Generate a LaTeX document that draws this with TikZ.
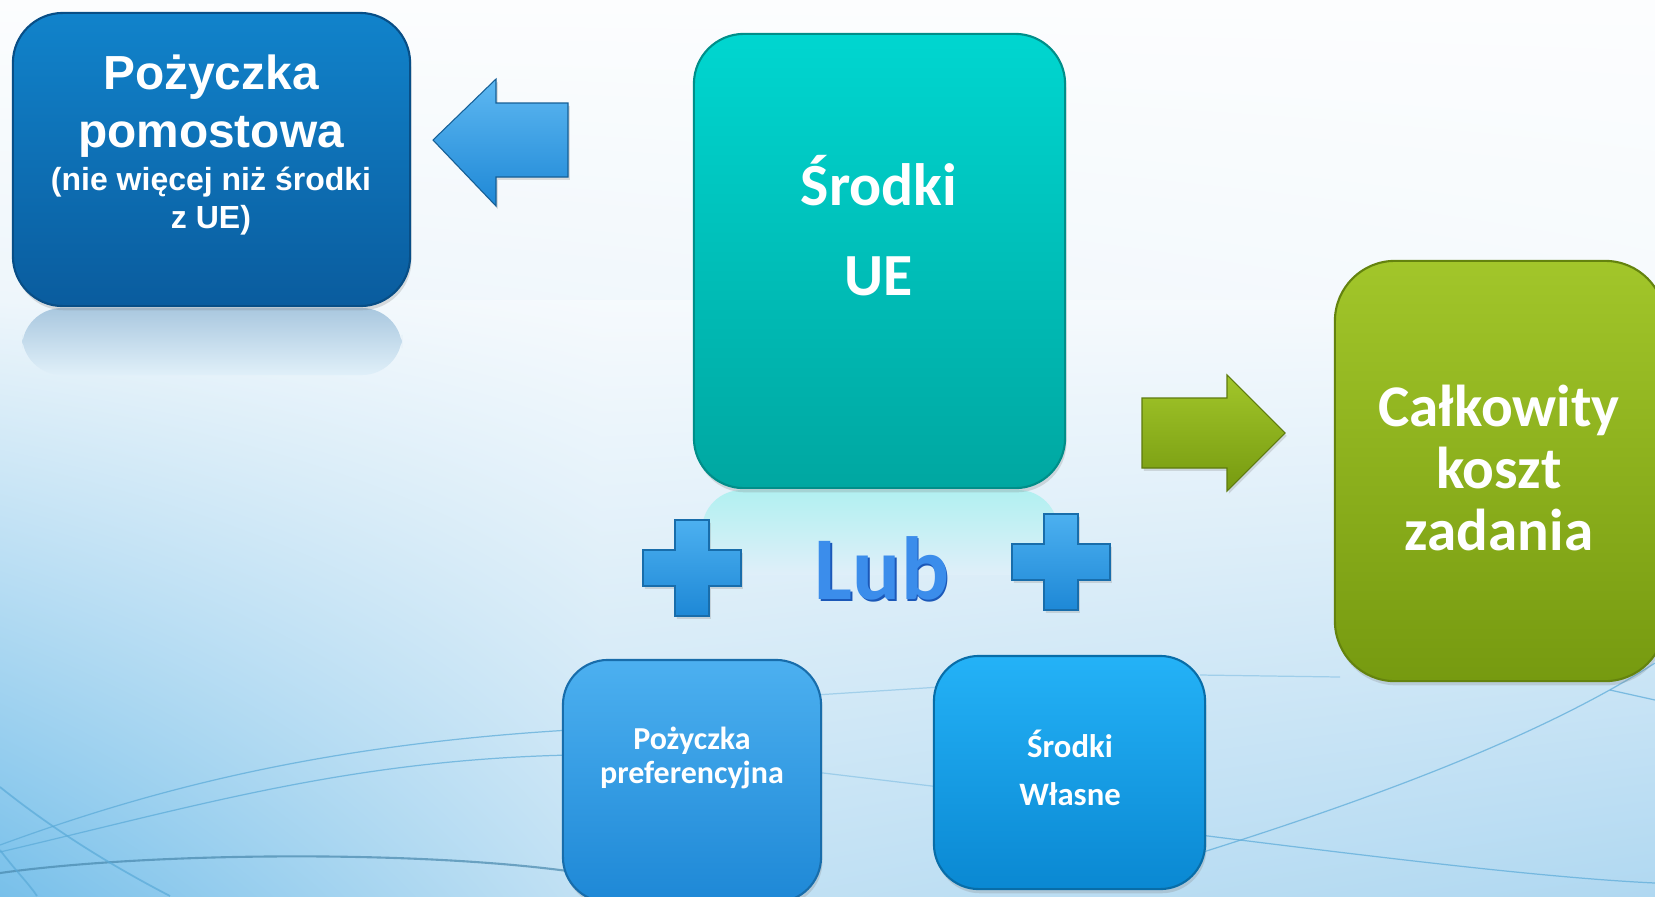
\documentclass[tikz,border=0pt]{standalone}
\usepackage{fontspec}
\newfontfamily\calibfont{Carlito}
\newfontfamily\arialfont{Liberation Sans}
\usetikzlibrary{shadows,shadings}

\definecolor{bgTop}{HTML}{FCFDFE}
\definecolor{bgMidL}{HTML}{EEF6FB}
\definecolor{bgMidR}{HTML}{F6FAFD}
\definecolor{bgBL}{HTML}{78C0EA}
\definecolor{bgBM}{HTML}{C4E2F4}
\definecolor{bgBR}{HTML}{B0D8F1}
\definecolor{pomTop}{HTML}{1183CB}
\definecolor{pomBot}{HTML}{0A5C9E}
\definecolor{ueTop}{HTML}{00D6D0}
\definecolor{ueBot}{HTML}{00A7A1}
\definecolor{kosztTop}{HTML}{A2C62A}
\definecolor{kosztBot}{HTML}{769A10}
\definecolor{prefTop}{HTML}{4CB0F0}
\definecolor{prefBot}{HTML}{1E88D6}
\definecolor{wlasTop}{HTML}{24B2F7}
\definecolor{wlasBot}{HTML}{0A88D2}
\definecolor{lubBlue}{HTML}{3B8DEB}
\definecolor{lubEdge}{HTML}{1B58B8}
\definecolor{swoosh}{HTML}{5AAAD8}

\tikzset{
  tile/.style={rounded corners=0.5cm, inner sep=0pt, outer sep=0pt, line width=0.6pt,
    drop shadow={opacity=0.25, shadow xshift=0.4pt, shadow yshift=-1.2pt}},
  label/.style={text=white, align=center, inner sep=0pt, font=\calibfont\bfseries},
  swoop/.style={draw=swoosh, line width=0.35pt, opacity=0.7},
  plussign/.pic={
    \shade[top color=prefTop, bottom color=prefBot, draw=prefBot!80!black, line width=0.3pt,
      drop shadow={opacity=0.25, shadow xshift=0.5pt, shadow yshift=-0.8pt}]
      (-17,-48) -- (17,-48) -- (17,-18) -- (49,-18) -- (49,18) -- (17,18) -- (17,48)
      -- (-17,48) -- (-17,18) -- (-49,18) -- (-49,-18) -- (-17,-18) -- cycle;
  }
}

\begin{document}
\begin{tikzpicture}[x=0.01cm,y=-0.01cm]
\useasboundingbox (0,0) rectangle (1655,896);
% background
\shade[upper left=bgTop, upper right=bgTop, lower left=bgMidL, lower right=bgMidR]
  (0,0) rectangle (1655,301);
\shade[upper left=bgMidL, upper right=bgMidR!99!bgMidL, lower left=bgBL, lower right=bgBM]
  (0,300) rectangle (601,896);
\shade[upper left=bgMidR!99!bgMidL, upper right=bgMidR, lower left=bgBM, lower right=bgBR]
  (600,300) rectangle (1655,896);

% swooshes in the background
\draw[swoop, line width=0.6pt, draw=swoosh!80!black] (0,873) .. controls (150,852) and (420,850) .. (575,872);
\draw[swoop] (0,845) .. controls (150,790) and (320,745) .. (570,730);
\draw[swoop] (0,852) .. controls (200,805) and (350,760) .. (570,755);
\draw[swoop, line width=0.5pt] (0,787) .. controls (60,835) and (120,870) .. (170,896);
\draw[swoop, line width=0.5pt] (0,850) .. controls (15,870) and (30,885) .. (37,896);
\draw[swoop, opacity=0.4] (815,695) -- (940,687);
\draw[swoop, opacity=0.4] (815,772) -- (940,787);
\draw[swoop] (1200,853) .. controls (1400,790) and (1550,730) .. (1655,663);
\draw[swoop] (1200,835) .. controls (1400,860) and (1550,878) .. (1655,883);
\draw[swoop, opacity=0.4] (1200,675) -- (1340,677);
\draw[swoop] (1610,690) -- (1655,700);

% reflections
\shade[top color=pomBot!30!bgMidL, bottom color=bgMidL!88!bgBL, rounded corners=0.4cm]
  (22,308) rectangle (402,375);
\shade[top color=ueTop!28!bgMidR, bottom color=bgMidR!55!bgBM, rounded corners=0.4cm]
  (702,490) rectangle (1058,575);

% boxes
\node[tile, minimum width=3.97cm, minimum height=2.93cm, top color=pomTop, bottom color=pomBot,
  draw=pomBot!85!black] (pomost) at (211.5,159.5) {};
\node[tile, minimum width=3.71cm, minimum height=4.54cm, top color=ueTop, bottom color=ueBot,
  draw=ueBot!85!black] (srodkiUE) at (879.5,261) {};
\node[tile, rounded corners=0.6cm, minimum width=3.3cm, minimum height=4.2cm, top color=kosztTop,
  bottom color=kosztBot, draw=kosztBot!85!black] (koszt) at (1500,471) {};
\node[tile, rounded corners=0.45cm, minimum width=2.58cm, minimum height=2.42cm, top color=prefTop,
  bottom color=prefBot, draw=prefBot!80!black] (pref) at (692,781) {};
\node[tile, rounded corners=0.45cm, minimum width=2.71cm, minimum height=2.33cm, top color=wlasTop,
  bottom color=wlasBot, draw=wlasBot!80!black] (wlasne) at (1069.5,772.5) {};

% texts
\node[label, font=\arialfont\bfseries\fontsize{13.6}{16.5}\selectfont] (pomostT) at (211,106)
  {Pożyczka\\pomostowa};
\node[label, font=\arialfont\bfseries\fontsize{9.1}{10.8}\selectfont] (pomostS) at (211,201)
  {(nie więcej niż środki\\z UE)};
\node[label, font=\calibfont\bfseries\fontsize{17}{25.6}\selectfont] (srodkiUET) at (879,226)
  {Środki\\UE};
\node[label, font=\calibfont\bfseries\fontsize{16.8}{17.5}\selectfont] (kosztT) at (1499,468)
  {Całkowity\\koszt\\zadania};
\node[label, font=\calibfont\bfseries\fontsize{9.1}{9.5}\selectfont] (prefT) at (692,758)
  {Pożyczka\\preferencyjna};
\node[label, font=\calibfont\bfseries\fontsize{9.3}{13.7}\selectfont] (wlasneT) at (1070,768)
  {Środki\\Własne};

% block arrows
\shade[top color=prefTop!90!white, bottom color=prefBot, draw=prefBot!70!black, line width=0.3pt,
  drop shadow={opacity=0.25, shadow xshift=0.5pt, shadow yshift=-0.8pt}]
  (433,140) -- (496,79) -- (496,103) -- (568,103) -- (568,177) -- (496,177) -- (496,206) -- cycle;
\shade[top color=kosztTop, bottom color=kosztBot, draw=kosztBot!80!black, line width=0.3pt,
  drop shadow={opacity=0.25, shadow xshift=0.5pt, shadow yshift=-0.8pt}]
  (1285,433) -- (1227,375) -- (1227,398) -- (1142,398) -- (1142,468) -- (1227,468) -- (1227,491) -- cycle;

% plus signs and Lub
\pic at (692,568) {plussign};
\pic at (1061,562) {plussign};
\node[anchor=base, inner sep=0pt, text=lubEdge, font=\calibfont\bfseries\fontsize{25.5}{28}\selectfont]
  (lubEdge) at (883.5,601) {Lub};
\node[anchor=base, inner sep=0pt, text=lubBlue, font=\calibfont\bfseries\fontsize{25.5}{28}\selectfont]
  (lub) at (882,599) {Lub};
\end{tikzpicture}
\end{document}
